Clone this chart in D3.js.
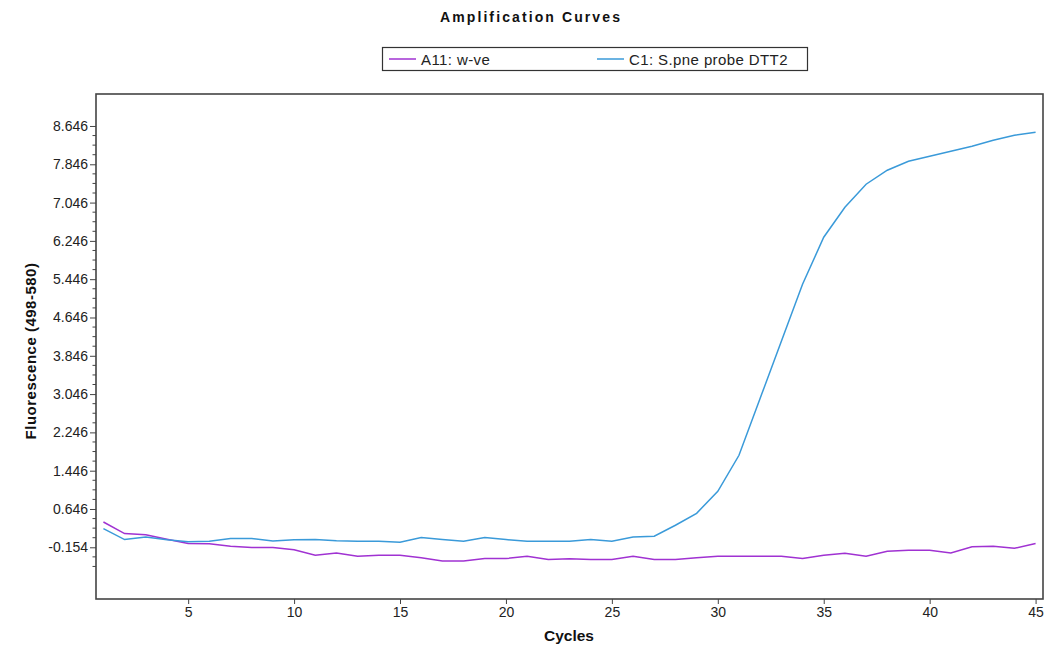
<!DOCTYPE html>
<html lang="en">
<head>
  <meta charset="UTF-8">
  <title>Amplification Curves</title>
  <script src="https://d3js.org/d3.v7.min.js"></script>
  <style>
    body { margin: 0; background: #fff; }
    text { font-family: "Liberation Sans", Arial, sans-serif; }
  </style>
</head>
<body>
  <script>
    "use strict";
    // cycles 1..45
    var cycles = d3.range(1, 46);
    // A11: w-ve (purple)
    var a11 = [0.374, 0.132, 0.107, 0.013, -0.077, -0.081, -0.133, -0.160, -0.160, -0.206,
               -0.321, -0.273, -0.342, -0.321, -0.321, -0.373, -0.440, -0.440, -0.390, -0.390,
               -0.342, -0.411, -0.394, -0.411, -0.411, -0.342, -0.411, -0.411, -0.373, -0.342,
               -0.342, -0.342, -0.342, -0.390, -0.321, -0.279, -0.342, -0.238, -0.217, -0.217,
               -0.275, -0.144, -0.133, -0.175, -0.077];
    // C1: S.pne probe DTT2 (blue)
    var c1 = [0.237, 0.007, 0.061, 0.003, -0.039, -0.029, 0.028, 0.028, -0.022, 0.003,
              0.007, -0.018, -0.029, -0.029, -0.050, 0.049, 0.007, -0.029, 0.049, 0.007,
              -0.029, -0.029, -0.029, 0.007, -0.029, 0.061, 0.076, 0.306, 0.556, 1.016,
              1.768, 2.959, 4.149, 5.340, 6.322, 6.949, 7.429, 7.722, 7.910, 8.014,
              8.118, 8.223, 8.348, 8.453, 8.515];
    var seriesNames = ["A11: w-ve", "C1: S.pne probe DTT2"];
    var seriesColors = ["#a032d2", "#3a9ad9"];
    var yMajor = d3.range(0, 12).map(function (i) { return -0.154 + i * 0.8; });
    var xMajor = [5, 10, 15, 20, 25, 30, 35, 40, 45];

    var W = 1061, H = 647;
    var pLeft = 96, pTop = 94, pRight = 1043, pBottom = 599;

    var svg = d3.select('body').append('svg')
      .attr('width', W)
      .attr('height', H);

    var x = d3.scaleLinear().domain([0.65, 45.35]).range([pLeft, pRight]);
    var y = d3.scaleLinear().domain([-1.234, 9.314]).range([pBottom, pTop]);

    // title
    svg.append('text')
      .attr('x', 531).attr('y', 22)
      .attr('text-anchor', 'middle')
      .attr('font-size', '14px')
      .attr('font-weight', 'bold')
      .attr('letter-spacing', '2.1px')
      .attr('fill', '#111')
      .text('Amplification Curves');

    // legend
    var lg = svg.append('g');
    lg.append('rect')
      .attr('x', 382.5).attr('y', 47.5)
      .attr('width', 425).attr('height', 23)
      .attr('fill', '#fff')
      .attr('stroke', '#333')
      .attr('stroke-width', 1.2);
    var legX = [389, 597];
    seriesNames.forEach(function (name, i) {
      lg.append('line')
        .attr('x1', legX[i]).attr('x2', legX[i] + 27)
        .attr('y1', 59).attr('y2', 59)
        .attr('stroke', seriesColors[i])
        .attr('stroke-width', 1.5);
      lg.append('text')
        .attr('x', legX[i] + 32).attr('y', 64.5)
        .attr('font-size', '15px')
        .attr('letter-spacing', '0.4px')
        .attr('fill', '#222')
        .text(name);
    });

    // y minor ticks
    var yMinor = d3.range(0, 46).map(function (i) { return -0.554 + i * 0.2; })
      .filter(function (v) { return v <= 8.7 && Math.abs(((v + 0.154) / 0.8) - Math.round((v + 0.154) / 0.8)) > 0.01; });
    svg.append('g')
      .selectAll('line')
      .data(yMinor)
      .enter().append('line')
      .attr('x1', pLeft - 3.5).attr('x2', pLeft)
      .attr('y1', function (d) { return y(d); })
      .attr('y2', function (d) { return y(d); })
      .attr('stroke', '#444');

    // axes
    var yAxis = svg.append('g')
      .attr('transform', 'translate(' + pLeft + ',0)')
      .call(d3.axisLeft(y).tickValues(yMajor).tickSize(6).tickPadding(2)
        .tickFormat(function (d) { return d.toFixed(3); }));
    var xAxis = svg.append('g')
      .attr('transform', 'translate(0,' + pBottom + ')')
      .call(d3.axisBottom(x).tickValues(xMajor).tickSize(5).tickPadding(3));
    [yAxis, xAxis].forEach(function (g) {
      g.select('.domain').remove();
      g.selectAll('line').attr('stroke', '#444');
      g.selectAll('text')
        .attr('font-family', '"Liberation Sans", Arial, sans-serif')
        .attr('font-size', '14px')
        .attr('fill', '#222');
    });

    // plot frame
    svg.append('rect')
      .attr('x', pLeft).attr('y', pTop)
      .attr('width', pRight - pLeft).attr('height', pBottom - pTop)
      .attr('fill', 'none')
      .attr('stroke', '#444')
      .attr('stroke-width', 1.6);

    // curves
    var line = d3.line()
      .x(function (d) { return x(d[0]); })
      .y(function (d) { return y(d[1]); });
    [a11, c1].forEach(function (vals, i) {
      svg.append('path')
        .datum(cycles.map(function (c, j) { return [c, vals[j]]; }))
        .attr('fill', 'none')
        .attr('stroke', seriesColors[i])
        .attr('stroke-width', 1.5)
        .attr('d', line);
    });

    // axis titles
    svg.append('text')
      .attr('x', 569).attr('y', 641)
      .attr('text-anchor', 'middle')
      .attr('font-size', '15.5px')
      .attr('font-weight', 'bold')
      .attr('fill', '#111')
      .text('Cycles');
    svg.append('text')
      .attr('transform', 'translate(36,351) rotate(-90)')
      .attr('text-anchor', 'middle')
      .attr('font-size', '15px')
      .attr('font-weight', 'bold')
      .attr('letter-spacing', '0.5px')
      .attr('fill', '#111')
      .text('Fluorescence (498-580)');
  </script>
</body>
</html>
